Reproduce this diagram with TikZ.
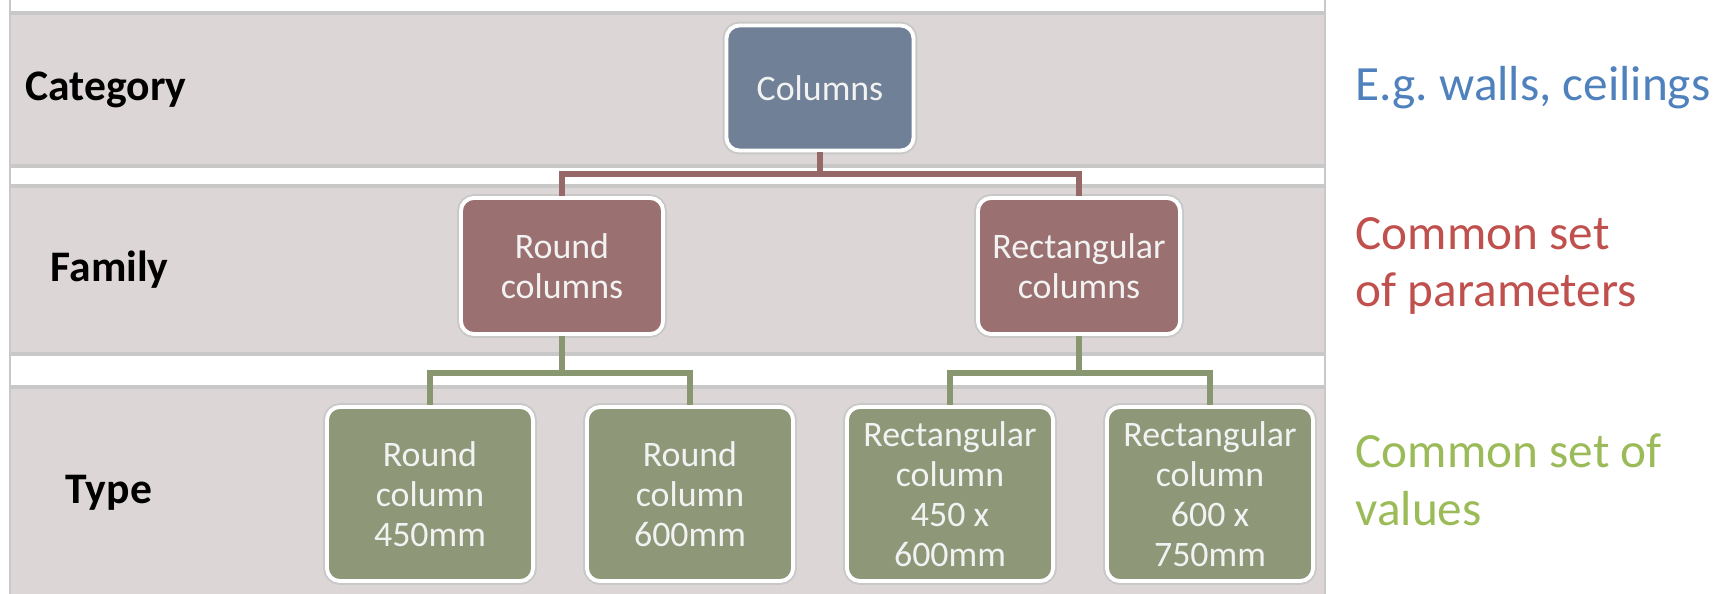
\documentclass[tikz,border=0pt]{standalone}
\usepackage{fontspec}
\setmainfont{Carlito}
\frenchspacing
\definecolor{bandgray}{RGB}{221,214,214}
\definecolor{rulegray}{RGB}{200,200,200}
\definecolor{catfill}{RGB}{112,128,150}
\definecolor{famfill}{RGB}{154,113,112}
\definecolor{typefill}{RGB}{142,152,120}
\definecolor{famline}{RGB}{150,104,104}
\definecolor{typeline}{RGB}{136,151,111}
\definecolor{noteblue}{RGB}{79,129,189}
\definecolor{notered}{RGB}{192,80,77}
\definecolor{notegreen}{RGB}{155,187,89}
\tikzset{
  band/.style={fill=bandgray, draw=rulegray, line width=0.3pt},
  strip/.style={draw=rulegray, line width=0.3pt},
  box/.style={rectangle, rounded corners=0.13cm, draw=white, line width=1.1pt,
    preaction={draw=rulegray, line width=2.2pt}, text=white!95!black, align=center,
    font=\fontsize{10.2}{11.4}\selectfont, inner sep=0pt},
  catbox/.style={box, fill=catfill, minimum width=1.87cm, minimum height=1.25cm},
  fambox/.style={box, fill=famfill, minimum width=2.02cm, minimum height=1.36cm},
  typebox/.style={box, fill=typefill, minimum width=2.06cm, minimum height=1.74cm},
  level/.style={font=\bfseries\fontsize{12.4}{14}\selectfont, anchor=west, inner sep=0pt},
  note/.style={font=\fontsize{14}{16.4}\selectfont, anchor=west, align=left, inner sep=0pt},
  famlink/.style={famline, line width=1.7pt},
  typelink/.style={typeline, line width=1.7pt}
}
\begin{document}
\begin{tikzpicture}[x=0.01cm, y=-0.01cm]
\useasboundingbox (0,0) rectangle (1727,594);
% bands of the table
\draw[strip] (10,-5) |- (1325,12) -- (1325,-5);
\draw[band] (10,14) rectangle (1325,165);
\draw[strip] (10,167) rectangle (1325,185);
\draw[band] (10,187) rectangle (1325,353);
\draw[strip] (10,355) rectangle (1325,386);
\draw[band] (10,388) rectangle (1325,600);
% level names
\node[level] (cat) at (25,90) {Category};
\node[level] (fam) at (50,270) {Family};
\node[level] (typ) at (65,493) {Type};
% boxes
\node[catbox] (cols) at (820,88) {Columns};
\node[fambox] (rnd) at (562,266) {Round\\columns};
\node[fambox] (rect) at (1079,266) {Rectangular\\columns};
\node[typebox] (rnd450) at (430,494) {Round\\column\\450mm};
\node[typebox] (rnd600) at (690,494) {Round\\column\\600mm};
\node[typebox] (rect450) at (950,494) {Rectangular\\column\\450 x\\600mm};
\node[typebox] (rect600) at (1210,494) {Rectangular\\column\\600 x\\750mm};
% links
\coordinate (famjoin) at (820,174);
\draw[famlink] (cols.south) -- (famjoin);
\draw[famlink] (rnd.north) |- (famjoin) -| (rect.north);
\coordinate (rndjoin) at (562,373);
\draw[typelink] (rnd.south) -- (rndjoin);
\draw[typelink] (rnd450.north) |- (rndjoin) -| (rnd600.north);
\coordinate (rectjoin) at (1079,373);
\draw[typelink] (rect.south) -- (rectjoin);
\draw[typelink] (rect450.north) |- (rectjoin) -| (rect600.north);
% notes
\node[note, text=noteblue] (eg) at (1355,88) {E.g. walls, ceilings};
\node[note, text=notered] (par) at (1355,266) {Common set\\of parameters};
\node[note, text=notegreen] (val) at (1355,480) {Common set of\\values};
\end{tikzpicture}
\end{document}
